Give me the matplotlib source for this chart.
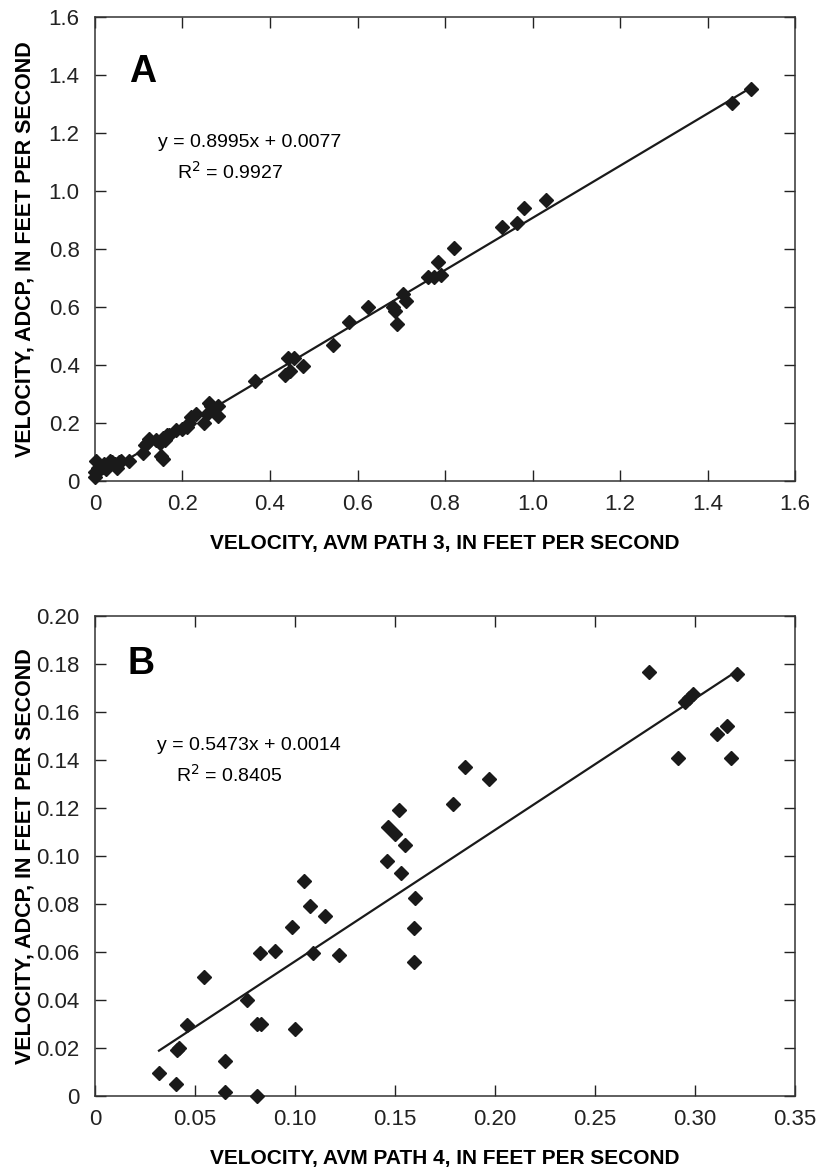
import numpy as np
import matplotlib
matplotlib.use('Agg')
import matplotlib.pyplot as plt

plt.rcParams['font.family'] = ['Liberation Sans', 'DejaVu Sans']

# panel A: AVM path 3 vs ADCP
avm3 = [0.0, 0.0, 0.003, 0.006, 0.015, 0.02, 0.025, 0.03, 0.035, 0.04, 0.045, 0.05, 0.055, 0.06, 0.078,
        0.11, 0.115, 0.12, 0.124, 0.14, 0.148, 0.15, 0.155, 0.155, 0.16, 0.165, 0.17, 0.185, 0.2, 0.21, 0.215,
        0.22, 0.23, 0.25, 0.255, 0.26, 0.265, 0.27, 0.28, 0.28,
        0.365, 0.435, 0.445, 0.44, 0.455, 0.475, 0.545, 0.58, 0.625, 0.68, 0.685, 0.69, 0.705, 0.71,
        0.76, 0.775, 0.79, 0.785, 0.82, 0.93, 0.965, 0.98, 1.03, 1.455, 1.50]
adcp_a = [0.015, 0.03, 0.07, 0.045, 0.05, 0.06, 0.04, 0.055, 0.07, 0.065, 0.06, 0.045, 0.065, 0.07, 0.07,
          0.095, 0.125, 0.13, 0.145, 0.14, 0.13, 0.085, 0.075, 0.15, 0.14, 0.16, 0.16, 0.175, 0.18, 0.185, 0.2,
          0.22, 0.23, 0.2, 0.23, 0.27, 0.26, 0.25, 0.26, 0.225,
          0.345, 0.365, 0.38, 0.425, 0.425, 0.395, 0.47, 0.55, 0.60, 0.60, 0.585, 0.54, 0.645, 0.62,
          0.705, 0.705, 0.71, 0.755, 0.805, 0.875, 0.89, 0.94, 0.97, 1.305, 1.35]

# panel B: AVM path 4 vs ADCP
avm4 = [0.032, 0.0405, 0.041, 0.042, 0.046, 0.0547, 0.065, 0.065, 0.076, 0.081, 0.083, 0.081, 0.0825,
        0.09, 0.0987, 0.1, 0.1045, 0.1075, 0.109, 0.115, 0.122, 0.146, 0.1467, 0.15, 0.152, 0.153, 0.155,
        0.1595, 0.1595, 0.16, 0.179, 0.185, 0.197, 0.277, 0.2915, 0.295, 0.297, 0.299, 0.311, 0.316,
        0.318, 0.321]
adcp_b = [0.0097, 0.005, 0.019, 0.02, 0.0296, 0.0496, 0.0147, 0.0018, 0.04, 0.03, 0.03, 0.0, 0.0597,
          0.0604, 0.0703, 0.028, 0.0897, 0.079, 0.0597, 0.075, 0.0589, 0.098, 0.112, 0.109, 0.119, 0.093, 0.1046,
          0.056, 0.07, 0.0824, 0.1215, 0.137, 0.132, 0.1768, 0.141, 0.164, 0.166, 0.1675, 0.151, 0.154,
          0.141, 0.176]

fit_a = (0.8995, 0.0077)
fit_b = (0.5473, 0.0014)

fig = plt.figure(figsize=(8.16, 11.71), dpi=100)
ax1 = fig.add_axes([0.1164, 0.5892, 0.858, 0.3963])
ax2 = fig.add_axes([0.1164, 0.064, 0.858, 0.41])


def style(ax):
    for s in ax.spines.values():
        s.set_linewidth(1.1)
        s.set_color('#333333')
    ax.tick_params(direction='in', top=True, right=True, length=8, width=1,
                   labelsize=16, colors='#222222')
    ax.tick_params(axis='y', pad=11)
    ax.tick_params(axis='x', pad=9)


# A
ax1.plot(avm3, adcp_a, 'D', color='#1a1a1a', markersize=7.5, zorder=3, clip_on=False)
xa = np.array([0.0, 1.5])
ax1.plot(xa, fit_a[0] * xa + fit_a[1], color='#1a1a1a', lw=1.6)
ax1.set_xlim(0, 1.6)
ax1.set_ylim(0, 1.6)
ax1.set_xticks(np.arange(0, 1.61, 0.2))
ax1.set_yticks(np.arange(0, 1.61, 0.2))
ax1.set_xticklabels(['0', '0.2', '0.4', '0.6', '0.8', '1.0', '1.2', '1.4', '1.6'])
ax1.set_yticklabels(['0', '0.2', '0.4', '0.6', '0.8', '1.0', '1.2', '1.4', '1.6'])
style(ax1)
ax1.set_xlabel('VELOCITY, AVM PATH 3, IN FEET PER SECOND', fontsize=15, fontweight='bold', labelpad=14)
ax1.set_ylabel('VELOCITY, ADCP, IN FEET PER SECOND', fontsize=15.5, fontweight='bold')
ax1.yaxis.set_label_coords(-0.085, 0.5)
ax1.text(0.078, 1.41, 'A', fontsize=27, fontweight='bold', va='center')
ax1.text(0.144, 1.166, 'y = 0.8995x + 0.0077', fontsize=14, va='center')
ax1.text(0.188, 1.066, 'R$^2$ = 0.9927', fontsize=14, va='center')

# B
ax2.plot(avm4, adcp_b, 'D', color='#1a1a1a', markersize=7.5, zorder=3, clip_on=False)
xb = np.array([0.032, 0.32])
ax2.plot(xb, fit_b[0] * xb + fit_b[1], color='#1a1a1a', lw=1.6)
ax2.set_xlim(0, 0.35)
ax2.set_ylim(0, 0.20)
ax2.set_xticks(np.arange(0, 0.351, 0.05))
ax2.set_yticks(np.arange(0, 0.201, 0.02))
ax2.set_xticklabels(['0', '0.05', '0.10', '0.15', '0.20', '0.25', '0.30', '0.35'])
ax2.set_yticklabels(['0', '0.02', '0.04', '0.06', '0.08', '0.10', '0.12', '0.14', '0.16', '0.18', '0.20'])
style(ax2)
ax2.set_xlabel('VELOCITY, AVM PATH 4, IN FEET PER SECOND', fontsize=15, fontweight='bold', labelpad=14)
ax2.set_ylabel('VELOCITY, ADCP, IN FEET PER SECOND', fontsize=15.5, fontweight='bold')
ax2.yaxis.set_label_coords(-0.085, 0.5)
ax2.text(0.0165, 0.18, 'B', fontsize=27, fontweight='bold', va='center')
ax2.text(0.031, 0.146, 'y = 0.5473x + 0.0014', fontsize=14, va='center')
ax2.text(0.0405, 0.134, 'R$^2$ = 0.8405', fontsize=14, va='center')

fig.savefig('out.png', dpi=100)
